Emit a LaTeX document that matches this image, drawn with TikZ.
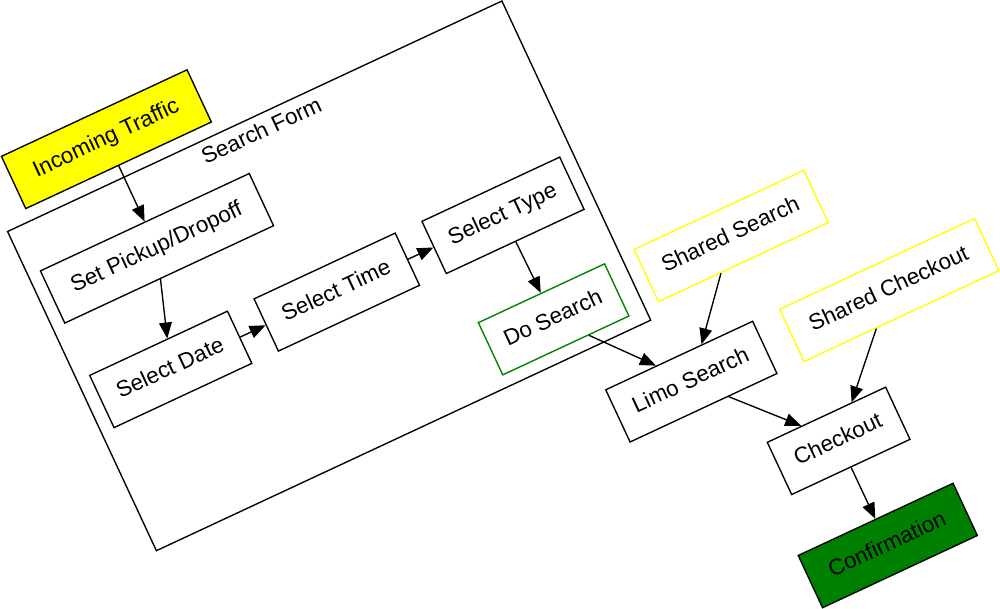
\documentclass[tikz,border=0pt]{standalone}
\usepackage{fontspec}
\setmainfont{Liberation Sans}
\usetikzlibrary{arrows.meta}
\definecolor{gvyellow}{RGB}{255,255,0}
\definecolor{gvgreen}{RGB}{0,128,0}

\begin{document}
\begin{tikzpicture}[x=0.625pt,y=-0.625pt,
		box/.style={draw,rotate=25,line width=0.85pt,minimum height=36pt,inner sep=0pt,
			text height=10pt,text depth=3pt,font=\fontsize{14}{16}\selectfont},
		flow/.style={-{Triangle[length=10pt,width=8pt]},line width=0.85pt}]
	\useasboundingbox (0,0) rectangle (1000,609);
	% cluster
	\node[draw,rotate=25,line width=0.85pt,minimum width=340.9pt,minimum height=220.1pt] (form) at (329.15,275.85) {};
	\node[rotate=25,anchor=north,inner sep=4.7pt,font=\fontsize{14}{16}\selectfont] (formlabel) at (form.north) {Search Form};
	%
	\node[box,fill=gvyellow,minimum width=128pt] (traffic) at (106.4,139.2) {Incoming Traffic};
	\node[box,minimum width=144pt] (pickup) at (157,248.3) {Set Pickup/Dropoff};
	\node[box,minimum width=95pt] (date) at (170.75,369.4) {Select Date};
	\node[box,minimum width=97.3pt] (time) at (336.8,292.1) {Select Time};
	\node[box,minimum width=95pt] (type) at (503,215.35) {Select Type};
	\node[box,draw=gvgreen,minimum width=87pt] (dosearch) at (553.65,319.35) {Do Search};
	\node[box,draw=gvyellow,minimum width=117pt] (sharedsearch) at (731.15,236) {Shared Search};
	\node[box,minimum width=101.3pt] (limo) at (691.35,381.65) {Limo Search};
	\node[box,draw=gvyellow,minimum width=134.4pt] (sharedcheckout) at (889.3,290) {Shared Checkout};
	\node[box,minimum width=81.6pt] (checkout) at (838.65,440.85) {Checkout};
	\node[box,fill=gvgreen,minimum width=106.75pt] (confirm) at (887.8,545.5) {Confirmation};
	%
	\draw[flow] (traffic) -- (pickup);
	\draw[flow] (pickup) -- (date);
	\draw[flow] (date) -- (time);
	\draw[flow] (time) -- (type);
	\draw[flow] (type) -- (dosearch);
	\draw[flow] (dosearch) -- (limo);
	\draw[flow] (sharedsearch) -- (limo);
	\draw[flow] (limo) -- (checkout);
	\draw[flow] (sharedcheckout) -- (checkout);
	\draw[flow] (checkout) -- (confirm);
\end{tikzpicture}
\end{document}
